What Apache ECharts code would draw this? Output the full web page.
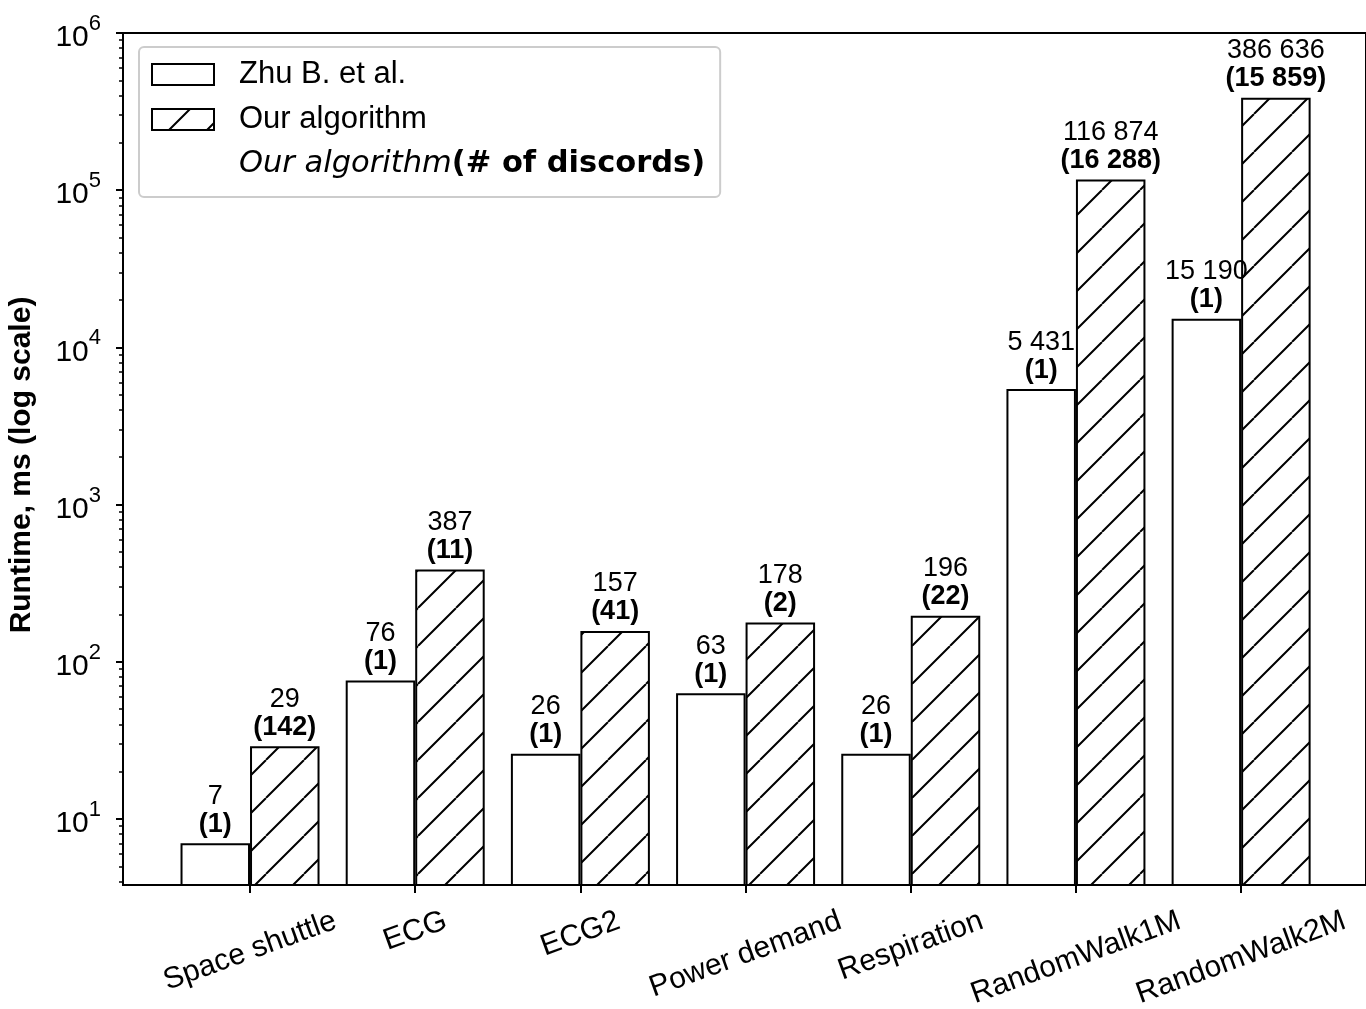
<!DOCTYPE html>
<html>
<head>
<meta charset="utf-8">
<title>Runtime comparison</title>
<script src="https://cdn.jsdelivr.net/npm/echarts@6/dist/echarts.min.js"></script>
<style>
  html, body { margin: 0; padding: 0; background: #fff; }
  #chart { width: 1366px; height: 1009px; }
</style>
</head>
<body>
<div id="chart"></div>
<script>
// Datasets on the x axis
const categories = ['Space shuttle', 'ECG', 'ECG2', 'Power demand', 'Respiration', 'RandomWalk1M', 'RandomWalk2M'];
// Runtime in ms and number of discords found
const zhuRuntime = [7, 76, 26, 63, 26, 5431, 15190];
const zhuDiscords = [1, 1, 1, 1, 1, 1, 1];
const ourRuntime = [29, 387, 157, 178, 196, 116874, 386636];
const ourDiscords = [142, 11, 41, 2, 22, 16288, 15859];
// Log-axis decades that get a label
const yMajorTicks = [10, 100, 1000, 10000, 100000, 1000000];

const FONT = '"Liberation Sans", Arial, Helvetica, sans-serif';
const MATH_FONT = '"DejaVu Sans", sans-serif';
const discordLabel = 'Our algorithm (# of discords)';
const LABEL_ROT = 20;

// minor ticks of the log axis: 2..9 times each decade, inside the axis range
const yMinorTicks = [4, 5, 6, 7, 8, 9];
for (let d = 10; d <= 100000; d *= 10) {
  for (let m = 2; m <= 9; m++) {
    yMinorTicks.push(m * d);
  }
}

// "/" hatch fill
function hatchPattern() {
  const size = 38;
  const c = document.createElement('canvas');
  c.width = size; c.height = size;
  const ctx = c.getContext('2d');
  ctx.fillStyle = '#fff';
  ctx.fillRect(0, 0, size, size);
  ctx.strokeStyle = '#000';
  ctx.lineWidth = 2;
  ctx.beginPath();
  for (let k = -1; k <= 1; k++) {
    ctx.moveTo(k * size, size);
    ctx.lineTo(k * size + size, 0);
  }
  ctx.stroke();
  return c;
}

function group(n) {
  return String(n).replace(/\B(?=(\d{3})+(?!\d))/g, ' ');
}

// rotated category labels: keep each label's box hanging from the same top line
const measure = document.createElement('canvas').getContext('2d');
measure.font = '30px "Liberation Sans"';
const rad = LABEL_ROT * Math.PI / 180;
const catRich = {};
categories.forEach((name, i) => {
  const w = measure.measureText(name).width;
  const p = w * Math.sin(rad) * Math.cos(rad);
  catRich['c' + i] = {
    fontSize: 30, fontFamily: FONT, color: '#000',
    padding: [p, p * Math.tan(rad), 0, 0]
  };
});
const catPositions = categories.map((_, i) => i);

const barLabelRich = {
  v: { fontSize: 27, lineHeight: 28, fontFamily: FONT, color: '#000' },
  d: { fontSize: 27, lineHeight: 28, fontFamily: FONT, fontWeight: 'bold', color: '#000' }
};

function barLabel(runtime, discords) {
  return {
    show: true,
    position: 'top',
    distance: 5,
    formatter: p => `{v|${group(runtime[p.dataIndex])}}\n{d|(${group(discords[p.dataIndex])})}`,
    rich: barLabelRich
  };
}

const chart = echarts.init(document.getElementById('chart'));

chart.setOption({
  animation: false,
  textStyle: { fontFamily: FONT, color: '#000' },
  grid: {
    left: 123, right: 0, top: 33, bottom: 124,
    show: true, borderColor: '#000', borderWidth: 2, backgroundColor: 'transparent',
    containLabel: false, outerBoundsMode: 'none'
  },
  legend: {
    orient: 'vertical',
    left: 139, top: 47,
    icon: 'rect',
    itemWidth: 62, itemHeight: 21, itemGap: 14,
    padding: [12, 15, 17, 12],
    borderColor: '#cccccc', borderWidth: 2, borderRadius: 5,
    backgroundColor: '#fff',
    selectedMode: false,
    itemStyle: { borderColor: '#000', borderWidth: 2 },
    data: [
      { name: 'Zhu B. et al.' },
      { name: 'Our algorithm' },
      { name: discordLabel, icon: 'rect', itemStyle: { opacity: 0, borderWidth: 0 } }
    ],
    formatter: name => name === discordLabel ? '{i|Our algorithm}{b|(# of discords)}' : name,
    textStyle: {
      fontFamily: FONT, fontSize: 31, color: '#000', lineHeight: 30,
      padding: [0, 0, 0, 20],
      rich: {
        i: { fontFamily: MATH_FONT, fontStyle: 'italic', fontSize: 30.5, color: '#000' },
        b: { fontFamily: MATH_FONT, fontWeight: 'bold', fontSize: 30.5, color: '#000' }
      }
    }
  },
  xAxis: {
    type: 'value',
    min: -0.769, max: 6.756,
    axisLine: { show: true, onZero: false, lineStyle: { color: '#000', width: 2 } },
    axisTick: { show: true, customValues: catPositions, length: 8, lineStyle: { color: '#000', width: 2 } },
    axisLabel: {
      customValues: catPositions,
      rotate: LABEL_ROT,
      align: 'center', verticalAlign: 'middle',
      margin: 35,
      formatter: v => { const i = Math.round(v); return `{c${i}|${categories[i]}}`; },
      rich: catRich
    },
    splitLine: { show: false }
  },
  yAxis: [
    {
      type: 'log', logBase: 10,
      min: 3.8, max: 1000000,
      position: 'left',
      axisLine: { show: true, onZero: false, lineStyle: { color: '#000', width: 2 } },
      axisTick: { show: true, customValues: yMajorTicks, length: 7, lineStyle: { color: '#000', width: 2 } },
      axisLabel: {
        customValues: yMajorTicks,
        margin: 22,
        formatter: v => `{b|10}{s|${Math.round(Math.log10(v))}}`,
        rich: {
          b: { fontSize: 30, fontFamily: FONT, color: '#000', lineHeight: 30, verticalAlign: 'bottom' },
          s: { fontSize: 22, fontFamily: FONT, color: '#000', lineHeight: 40, verticalAlign: 'top' }
        }
      },
      splitLine: { show: false },
      minorTick: { show: false },
      name: 'Runtime, ms (log scale)',
      nameLocation: 'middle',
      nameRotate: 90,
      nameGap: 86,
      nameTextStyle: { fontFamily: FONT, fontWeight: 'bold', fontSize: 30, color: '#000', padding: [0, 12, 0, 0] }
    },
    {
      type: 'log', logBase: 10,
      min: 3.8, max: 1000000,
      position: 'left', offset: 0,
      axisLine: { show: false, onZero: false },
      axisTick: { show: true, customValues: yMinorTicks, length: 4, lineStyle: { color: '#000', width: 1.5 } },
      axisLabel: { show: false },
      splitLine: { show: false }
    }
  ],
  series: [
    {
      name: 'Zhu B. et al.',
      type: 'bar',
      yAxisIndex: 0,
      data: zhuRuntime.map((v, i) => [i, v]),
      barWidth: 69.5,
      barGap: '0%',
      itemStyle: { color: '#fff', borderColor: '#000', borderWidth: 2 },
      label: barLabel(zhuRuntime, zhuDiscords),
      emphasis: { disabled: true }
    },
    {
      name: 'Our algorithm',
      type: 'bar',
      yAxisIndex: 0,
      data: ourRuntime.map((v, i) => [i, v]),
      barWidth: 69.5,
      barGap: '0%',
      itemStyle: { color: { image: hatchPattern(), repeat: 'repeat' }, borderColor: '#000', borderWidth: 2 },
      label: barLabel(ourRuntime, ourDiscords),
      emphasis: { disabled: true }
    },
    {
      name: discordLabel,
      type: 'scatter',
      yAxisIndex: 0,
      data: []
    }
  ]
});
</script>
</body>
</html>
